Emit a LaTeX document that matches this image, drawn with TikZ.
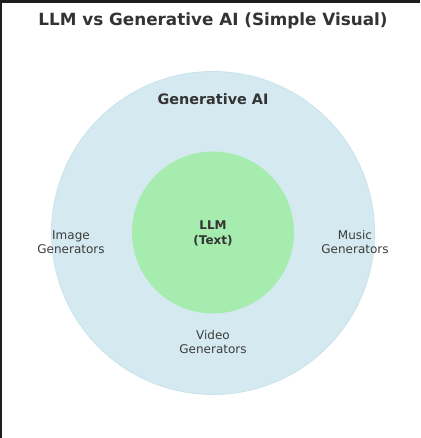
\documentclass[tikz,border=0pt]{standalone}
\usepackage{fontspec}
\setmainfont{DejaVu Sans}
\definecolor{frame}{HTML}{1E1E1E}
\definecolor{outerfill}{HTML}{D5EAF0}
\definecolor{outeredge}{HTML}{C8E3EC}
\definecolor{innerfill}{HTML}{A6ECAE}
\definecolor{txt}{HTML}{333333}
\definecolor{lighttxt}{HTML}{3C3C3C}
\tikzset{
  lbl/.style={align=center, inner sep=0pt, text=lighttxt, font=\fontsize{12pt}{14pt}\selectfont},
  blbl/.style={align=center, inner sep=0pt, text=txt, font=\fontsize{12pt}{14.5pt}\selectfont\bfseries},
}
\begin{document}
\begin{tikzpicture}[x=1pt,y=-1pt]
\fill[frame] (0,0) rectangle (420,438);
\fill[white] (2,3) rectangle (420,438);
\useasboundingbox (0,0) rectangle (420,438);
\node[anchor=base, inner sep=0pt, text=txt, font=\fontsize{16.8pt}{20pt}\selectfont\bfseries] (title) at (213,26) {LLM vs Generative AI (Simple Visual)};
\node[circle, fill=outerfill, draw=outeredge, line width=0.8pt, minimum size=323pt, inner sep=0pt] (genai) at (213,233) {};
\node[circle, fill=innerfill, minimum size=162pt, inner sep=0pt] (llm) at (213,232.5) {};
\node[anchor=base, inner sep=0pt, text=txt, font=\fontsize{14.4pt}{17pt}\selectfont\bfseries] (gentitle) at (213,104.5) {Generative AI};
\node[blbl] (llmtext) at (213,233.2) {LLM\\(Text)};
\node[lbl] (image) at (71,242) {Image\\Generators};
\node[lbl] (music) at (355,242) {Music\\Generators};
\node[lbl] (video) at (213,342) {Video\\Generators};
\end{tikzpicture}
\end{document}
